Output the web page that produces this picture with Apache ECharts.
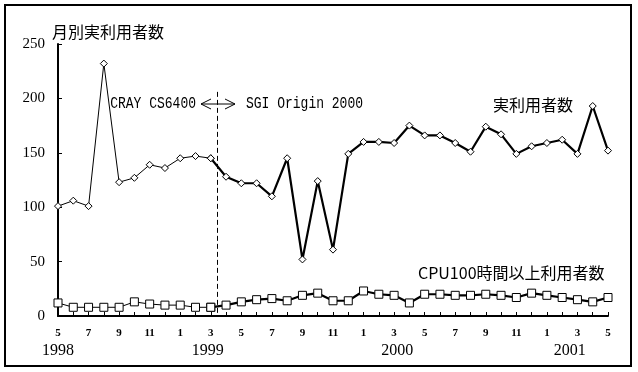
<!DOCTYPE html>
<html><head><meta charset="utf-8">
<script src="https://cdn.jsdelivr.net/npm/echarts@6/dist/echarts.min.js"></script>
<style>html,body{margin:0;padding:0;background:#fff}#c{width:638px;height:372px}</style>
</head><body><div id="c"></div>
<script>
// Months from 1998-05 to 2001-05
const monthLabels = ['5','6','7','8','9','10','11','12','1','2','3','4','5','6','7','8','9','10','11','12','1','2','3','4','5','6','7','8','9','10','11','12','1','2','3','4','5'];
const yearLabels = ['1998','1999','2000','2001'];
const actualUsers = [101,106,101,232,123,127,139,136,145,147,145,128,122,122,110,145,52,124,61,149,160,160,159,175,166,166,159,151,174,167,149,156,159,162,149,193,152];
const cpu100Users = [12,8,8,8,8,13,11,10,10,8,8,10,13,15,16,14,19,21,14,14,23,20,19,12,20,20,19,19,20,19,17,21,19,17,15,13,17];
const yTicks = [0,50,100,150,200,250];
const switchIndex = 10; // last CRAY CS6400 month (1999-03)

const pts = arr => arr.map((v, i) => [i, v]);
const before = arr => pts(arr).filter(p => p[0] <= switchIndex);
const after = arr => pts(arr).filter(p => p[0] >= switchIndex);

const chart = echarts.init(document.getElementById('c'), null, {renderer: 'canvas'});
const numFont = 'Liberation Serif';

const markerStyle = {color: '#fff', borderColor: '#000', borderWidth: 1};

chart.setOption({
  animation: false,
  backgroundColor: '#fff',
  grid: {left: 58, right: 30, top: 44, bottom: 56, containLabel: false},
  xAxis: [{
    type: 'value', min: 0, max: monthLabels.length - 1, interval: 1,
    axisLine: {show: true, lineStyle: {color: '#000', width: 2}},
    axisTick: {show: true, inside: true, length: 4, lineStyle: {color: '#000', width: 1}},
    splitLine: {show: false},
    axisLabel: {
      margin: 12, color: '#000', fontFamily: numFont, fontSize: 11, fontWeight: 'bold',
      formatter: v => (v % 2 === 0 ? monthLabels[v] : '')
    }
  }, {
    type: 'value', min: 0, max: monthLabels.length - 1, position: 'bottom',
    axisLine: {show: false}, axisTick: {show: false}, splitLine: {show: false},
    axisLabel: {
      show: true, margin: 27, color: '#000', fontFamily: numFont, fontSize: 16,
      customValues: [0, 9.8, 22.2, 33.5],
      formatter: v => ({0: yearLabels[0], 9.8: yearLabels[1], 22.2: yearLabels[2], 33.5: yearLabels[3]})[v] || ''
    }
  }],
  yAxis: {
    type: 'value', min: yTicks[0], max: yTicks[yTicks.length - 1], interval: 50,
    axisLine: {show: true, lineStyle: {color: '#000', width: 2}},
    axisTick: {show: true, inside: true, length: 4, lineStyle: {color: '#000', width: 1}},
    splitLine: {show: false},
    axisLabel: {margin: 13, color: '#000', fontFamily: numFont, fontSize: 15}
  },
  series: [
    {type: 'line', data: before(actualUsers), symbol: 'diamond', symbolSize: 7, showAllSymbol: true,
     lineStyle: {color: '#000', width: 1}, itemStyle: markerStyle, z: 3,
     markLine: {
       silent: true, symbol: ['none', 'none'], label: {show: false},
       lineStyle: {color: '#000', width: 1, type: [5, 3]},
       data: [[{coord: [switchIndex + 0.4, 206]}, {coord: [switchIndex + 0.4, 0]}]]
     }},
    {type: 'line', data: after(actualUsers), symbol: 'diamond', symbolSize: 7, showAllSymbol: true,
     lineStyle: {color: '#000', width: 2.2}, itemStyle: markerStyle, z: 3},
    {type: 'line', data: before(cpu100Users), symbol: 'rect', symbolSize: 8, showAllSymbol: true,
     lineStyle: {color: '#000', width: 1}, itemStyle: markerStyle, z: 3},
    {type: 'line', data: after(cpu100Users), symbol: 'rect', symbolSize: 8, showAllSymbol: true,
     lineStyle: {color: '#000', width: 2.2}, itemStyle: markerStyle, z: 3}
  ],
  graphic: [
    {type: 'rect', shape: {x: 5, y: 5, width: 626, height: 361}, style: {fill: 'none', stroke: '#000', lineWidth: 2}, z: 0, silent: true},
    {type: 'text', left: 52, top: 24, style: {text: '月別実利用者数', font: '16px "Noto Sans CJK JP"', fill: '#000'}},
    {type: 'text', left: 493, top: 97, style: {text: '実利用者数', font: '16px "Noto Sans CJK JP"', fill: '#000'}},
    {type: 'text', left: 418, top: 265, style: {text: 'CPU100時間以上利用者数', font: '16px "Noto Sans CJK JP"', fill: '#000'}},
    {type: 'text', x: 196, y: 104, scaleY: 1.25,
     style: {text: 'CRAY CS6400', font: '13px "Liberation Mono"', fill: '#000', align: 'right', verticalAlign: 'middle'}},
    {type: 'text', x: 246, y: 104, scaleY: 1.25,
     style: {text: 'SGI Origin 2000', font: '13px "Liberation Mono"', fill: '#000', align: 'left', verticalAlign: 'middle'}},
    {type: 'line', shape: {x1: 201, y1: 104, x2: 235, y2: 104}, style: {stroke: '#000', lineWidth: 1}},
    {type: 'polyline', shape: {points: [[211, 99], [201, 104], [211, 109]]}, style: {stroke: '#000', lineWidth: 1, fill: 'none'}},
    {type: 'polyline', shape: {points: [[225, 99], [235, 104], [225, 109]]}, style: {stroke: '#000', lineWidth: 1, fill: 'none'}}
  ]
});
</script></body></html>
